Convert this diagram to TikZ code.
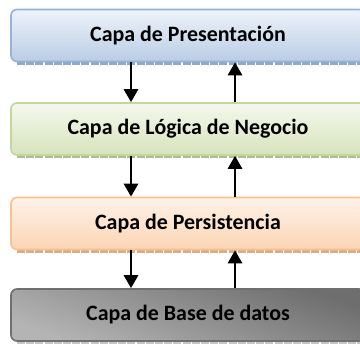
\documentclass[tikz,border=0pt]{standalone}
\usepackage{fontspec}
\setmainfont{Carlito}
\usetikzlibrary{arrows.meta}

\definecolor{azulborde}{HTML}{95B3D7}
\definecolor{azularriba}{HTML}{EEF3FA}
\definecolor{azulabajo}{HTML}{B9CDE5}
\definecolor{verdeborde}{HTML}{C3D69B}
\definecolor{verdearriba}{HTML}{F4F8EC}
\definecolor{verdeabajo}{HTML}{D7E4BD}
\definecolor{naranjaborde}{HTML}{FAC090}
\definecolor{naranjaarriba}{HTML}{FEF2E8}
\definecolor{naranjaabajo}{HTML}{FBD5B5}
\definecolor{grisborde}{HTML}{6F6F6F}
\definecolor{grisoscuro}{HTML}{6E6E6E}
\definecolor{grismedio}{HTML}{B4B4B4}
\definecolor{grisclaro}{HTML}{F2F2F2}

\tikzset{
  capa/.style={draw, line width=1.6bp, rounded corners=6bp,
    minimum width=354bp, minimum height=52bp, inner sep=0pt,
    font=\bfseries\fontsize{22}{24}\selectfont, text=black},
  sombra/.style={line width=2.5bp, dash pattern=on 8bp off 1.2bp},
  flecha/.style={line width=2.8bp, -{Triangle[width=14bp,length=13bp]}}
}

\begin{document}
\begin{tikzpicture}[x=1bp, y=1bp]
		%%%%% START %%%%%
		\useasboundingbox (0, 0) rectangle (360, 345);
		\clip (0, 0) rectangle (360, 345);
		
		% sombras
		\draw[sombra, color=azulborde!80!gray] (17, 281.5) -- (370, 281.5);
		\draw[sombra, color=verdeborde!70!gray] (17, 188.5) -- (370, 188.5);
		\draw[sombra, color=naranjaborde!70!gray] (17, 93.5) -- (370, 93.5);
		\draw[sombra, color=gray!45] (17, 2.5) -- (370, 2.5);
		
		% capas
		\node[capa, draw=azulborde, top color=azularriba, bottom color=azulabajo]
		  (presentacion) at (188, 309.5) {Capa de Presentación};
		\node[capa, draw=verdeborde, top color=verdearriba, bottom color=verdeabajo]
		  (logica) at (188, 216) {Capa de Lógica de Negocio};
		\node[capa, draw=naranjaborde, top color=naranjaarriba, bottom color=naranjaabajo]
		  (persistencia) at (188, 121.5) {Capa de Persistencia};
		\node[capa, draw=grisborde, top color=grisoscuro, middle color=grisclaro,
		  bottom color=grismedio, shading angle=-20]
		  (datos) at (188, 30) {Capa de Base de datos};
		
		% flechas
		\draw[flecha] ([xshift=-57bp]presentacion.south) -- ([xshift=-57bp]logica.north);
		\draw[flecha] ([xshift=47bp]logica.north) -- ([xshift=47bp]presentacion.south);
		\draw[flecha] ([xshift=-57bp]logica.south) -- ([xshift=-57bp]persistencia.north);
		\draw[flecha] ([xshift=47bp]persistencia.north) -- ([xshift=47bp]logica.south);
		\draw[flecha] ([xshift=-57bp]persistencia.south) -- ([xshift=-57bp]datos.north);
		\draw[flecha] ([xshift=47bp]datos.north) -- ([xshift=47bp]persistencia.south);
		
		%%%%% END %%%%%
	\end{tikzpicture}
\end{document}
